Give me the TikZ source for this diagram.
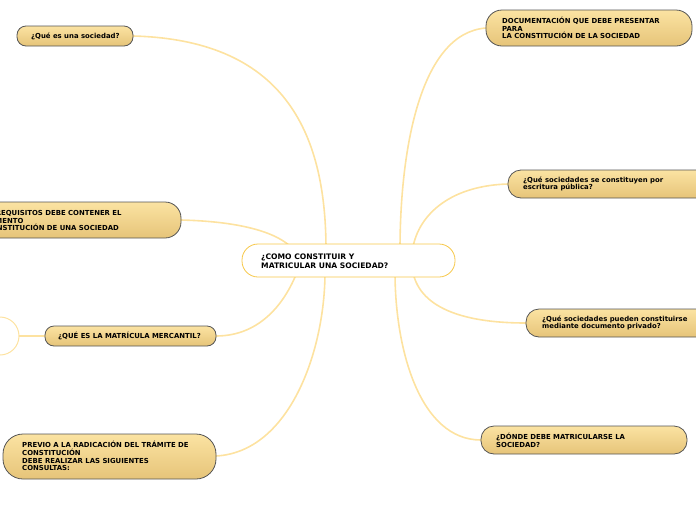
\documentclass[tikz,border=0pt]{standalone}
\usepackage{fontspec}
\setmainfont{DejaVu Sans}
\begin{document}
\begin{tikzpicture}[x=1pt,y=-1pt,
  link/.style={draw=linkc,line width=1.6pt},
  topic/.style={draw=boxline,line width=0.8pt,top color=boxtop,bottom color=boxbot,rounded corners=11pt,minimum height=#1},
  lab/.style={font=\bfseries\fontsize{6.9}{7.7}\selectfont,align=left,anchor=west,inner sep=0pt}]
\definecolor{linkc}{HTML}{FDE2A0}
\definecolor{boxline}{HTML}{555555}
\definecolor{boxtop}{HTML}{FBE3A2}
\definecolor{boxbot}{HTML}{E6C479}
\definecolor{mainline}{HTML}{F7C84A}
\useasboundingbox (0,0) rectangle (696,520);
\clip (0,0) rectangle (696,520);
% connectors
\coordinate (cA) at (326,250); \coordinate (cB) at (300,262); \coordinate (cC) at (300,264);
\coordinate (cD) at (325,272); \coordinate (cE) at (400,250); \coordinate (cF) at (412,258);
\coordinate (cG) at (412,262); \coordinate (cH) at (395,272);
\coordinate (A) at (133,36); \coordinate (B) at (181,220); \coordinate (C) at (216,336);
\coordinate (D) at (216,456); \coordinate (E) at (486,28); \coordinate (F) at (508,184);
\coordinate (G) at (526,323); \coordinate (H) at (481,440);
\coordinate (ring) at (19,336); \coordinate (Cl) at (45,336);
\draw[link] (A) .. controls (290,40) and (326,140) .. (cA);
\draw[link] (B) .. controls (260,222) and (295,240) .. (cB);
\draw[link] (C) .. controls (262,336) and (288,300) .. (cC);
\draw[link] (D) .. controls (290,452) and (325,350) .. (cD);
\draw[link] (E) .. controls (420,33) and (400,150) .. (cE);
\draw[link] (F) .. controls (440,186) and (412,225) .. (cF);
\draw[link] (G) .. controls (440,323) and (412,295) .. (cG);
\draw[link] (H) .. controls (420,440) and (395,350) .. (cH);
\draw[link] (ring) -- (Cl);
\draw[linkc,line width=1pt] (0,336) circle (19);
% boxes
\draw[mainline,fill=white,line width=0.8pt,rounded corners=16pt] (242,244) rectangle (455,277);
\node[lab,font=\bfseries\fontsize{7.6}{8.8}\selectfont] (main) at (261,261) {¿COMO CONSTITUIR Y\\MATRICULAR UNA SOCIEDAD?};
\shade[topic=0pt,rounded corners=9pt,draw=boxline] (17,26) rectangle (133,46);
\node[lab] (a) at (31,36) {¿Qué es una sociedad?};
\shade[topic=0pt,rounded corners=16pt,draw=boxline] (-60,202) rectangle (181,238);
\node[lab] (b) at (-27,220) {¿QUÉ REQUISITOS DEBE CONTENER EL\\DOCUMENTO\\DE CONSTITUCIÓN DE UNA SOCIEDAD};
\shade[topic=0pt,rounded corners=9pt,draw=boxline] (45,326) rectangle (216,346);
\node[lab] (c) at (58,336) {¿QUÉ ES LA MATRÍCULA MERCANTIL?};
\shade[topic=0pt,rounded corners=20pt,draw=boxline] (3,434) rectangle (216,479);
\node[lab] (d) at (22,456) {PREVIO A LA RADICACIÓN DEL TRÁMITE DE\\CONSTITUCIÓN\\DEBE REALIZAR LAS SIGUIENTES\\CONSULTAS:};
\shade[topic=0pt,rounded corners=16pt,draw=boxline] (486,10) rectangle (692,46);
\node[lab] (e) at (502,28) {DOCUMENTACIÓN QUE DEBE PRESENTAR\\PARA\\LA CONSTITUCIÓN DE LA SOCIEDAD};
\shade[topic=0pt,rounded corners=13pt,draw=boxline] (508,170) rectangle (740,198);
\node[lab] (f) at (523,184) {¿Qué sociedades se constituyen por\\escritura pública?};
\shade[topic=0pt,rounded corners=13pt,draw=boxline] (526,309) rectangle (740,337);
\node[lab] (g) at (542,323) {¿Qué sociedades pueden constituirse\\mediante documento privado?};
\shade[topic=0pt,rounded corners=13pt,draw=boxline] (481,426) rectangle (687,454);
\node[lab] (h) at (496,440) {¿DÓNDE DEBE MATRICULARSE LA\\SOCIEDAD?};
\end{tikzpicture}
\end{document}
